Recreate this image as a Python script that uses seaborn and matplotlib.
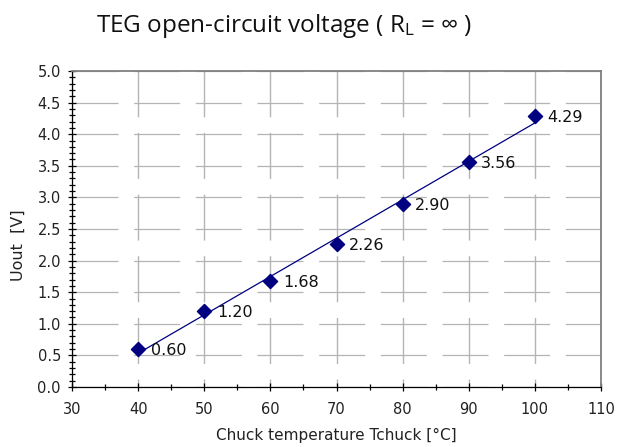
"""TEG open-circuit voltage vs chuck temperature."""

import matplotlib
matplotlib.use("Agg")
import matplotlib.pyplot as plt
from matplotlib.ticker import MultipleLocator
import pandas as pd
import seaborn as sns

# data
temperature = [40, 50, 60, 70, 80, 90, 100]
voltage = [0.60, 1.20, 1.68, 2.26, 2.90, 3.56, 4.29]
value_labels = ["0.60", "1.20", "1.68", "2.26", "2.90", "3.56", "4.29"]

NAVY = "#000080"
GRID = "#b4b4b4"

sns.set_style("white")
plt.rcParams["font.family"] = ["DejaVu Sans"]
plt.rcParams["lines.scale_dashes"] = False
plt.rcParams["mathtext.fontset"] = "custom"
plt.rcParams["mathtext.rm"] = "Open Sans"

df = pd.DataFrame({"T": temperature, "U": voltage})

fig = plt.figure(figsize=(6.18, 4.47), dpi=100)
ax = fig.add_axes([72 / 618, 1 - 387 / 447, 529 / 618, 316 / 447])

# linear trend line + diamond markers
sns.regplot(data=df, x="T", y="U", ci=None, truncate=True, marker="D", ax=ax,
            scatter_kws={"s": 52, "color": NAVY, "edgecolors": NAVY,
                         "alpha": 1, "zorder": 4},
            line_kws={"color": NAVY, "lw": 0.9, "zorder": 3})

for t, u, lab in zip(temperature, voltage, value_labels):
    ax.annotate(lab, (t, u), xytext=(9, -1), textcoords="offset points",
                va="center", ha="left", fontsize=11.5, color="#111111")

ax.set_xlim(30, 110)
ax.set_ylim(0, 5)
ax.xaxis.set_major_locator(MultipleLocator(10))
ax.xaxis.set_minor_locator(MultipleLocator(5))
ax.yaxis.set_major_locator(MultipleLocator(0.5))
ax.yaxis.set_minor_locator(MultipleLocator(0.1))
ax.yaxis.set_major_formatter(matplotlib.ticker.FormatStrFormatter("%.1f"))

ax.tick_params(which="both", direction="inout", color="black", width=0.9)
ax.tick_params(which="major", length=6, labelsize=10.5, labelcolor="#222222")
ax.tick_params(which="minor", length=5)
ax.tick_params(axis="x", which="both", bottom=True, pad=8)
ax.tick_params(axis="y", which="both", left=True, pad=5)

# dashed-looking grid, vertical dashes start at the top edge
ax.set_axisbelow(True)
ax.yaxis.grid(True, which="major", color=GRID, lw=0.9, linestyle=(0, (33.1, 11.3)))
ax.xaxis.grid(True, which="major", color=GRID, lw=1.0, linestyle=(27.4, (33.1, 11.3)))

for side in ["left", "bottom"]:
    ax.spines[side].set_color("black")
    ax.spines[side].set_linewidth(0.9)
for side in ["top", "right"]:
    ax.spines[side].set_visible(True)
    ax.spines[side].set_color("#808080")
    ax.spines[side].set_linewidth(1.3)

ax.set_xlabel("Chuck temperature Tchuck [°C]", fontsize=11, color="#222222", labelpad=8)
ax.set_ylabel("Uout  [V]", fontsize=11.5, color="#222222")
ax.yaxis.set_label_coords(-0.088, 0.45)

fig.text(284 / 618, 1 - 26 / 447, r"TEG open-circuit voltage ( $\mathrm{R_L}$ = ∞ )",
         ha="center", va="center", fontsize=17.5, family=["Open Sans", "DejaVu Sans"],
         color="#111111")

fig.savefig("out.png", dpi=100, facecolor="white")
plt.close(fig)
